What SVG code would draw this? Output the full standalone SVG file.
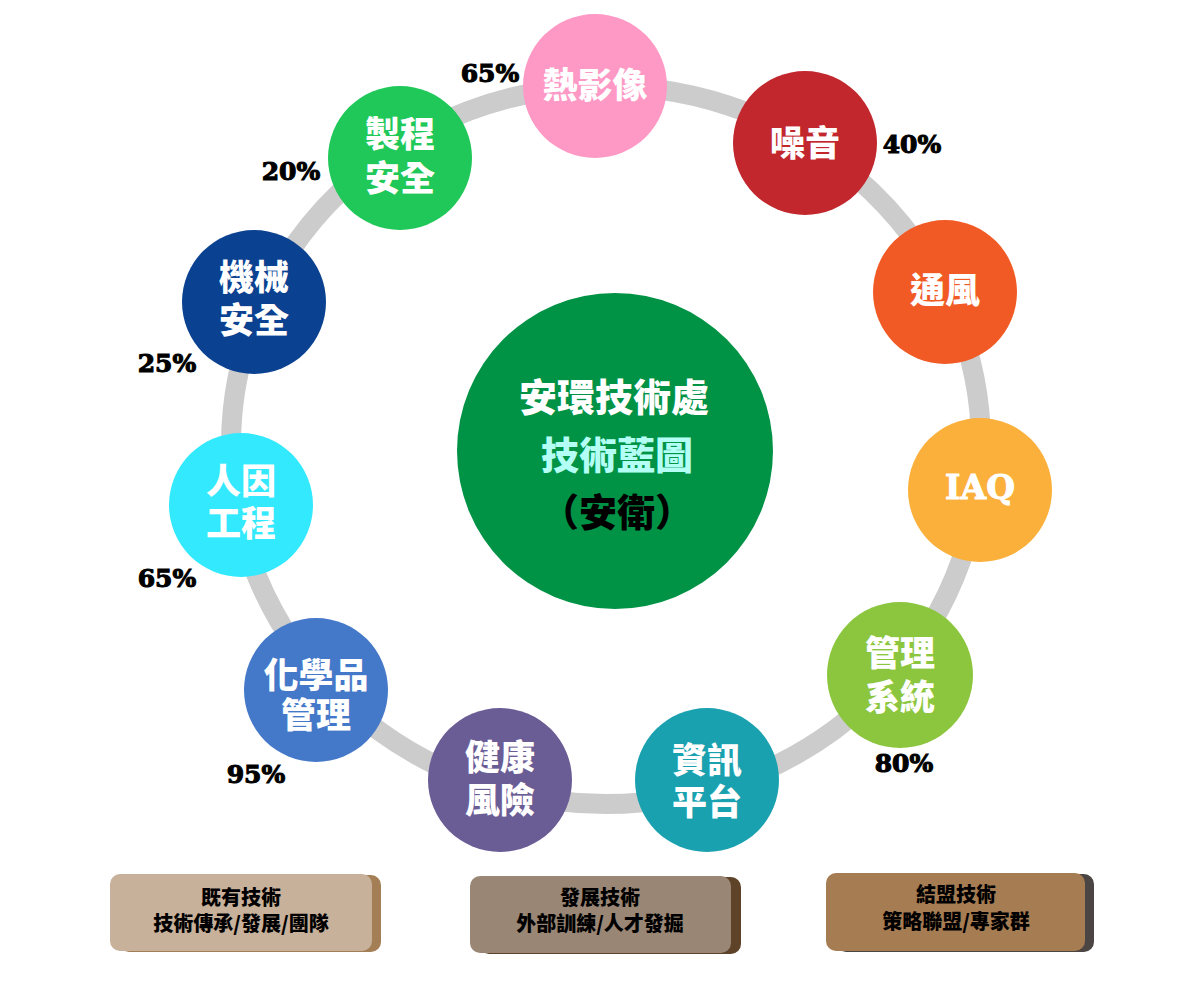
<svg xmlns="http://www.w3.org/2000/svg" width="1200" height="1000" viewBox="0 0 1200 1000">
<style>
.nt{font-family:"Noto Sans CJK TC","Noto Sans CJK SC",sans-serif;font-weight:900;font-size:35px;fill:#ffffff;text-anchor:middle}
.pc{font-family:"DejaVu Serif","Liberation Serif",serif;font-weight:bold;font-size:25px;fill:#000000;stroke:#000000;stroke-width:1.1px;text-anchor:middle}
.ct{font-family:"Noto Sans CJK TC","Noto Sans CJK SC",sans-serif;font-weight:900;font-size:38px;text-anchor:middle}
.bt{font-family:"Noto Sans CJK TC","Noto Sans CJK SC",sans-serif;font-weight:900;font-size:20px;fill:#000000;text-anchor:middle}
</style>
<rect width="1200" height="1000" fill="#ffffff"/>
<g id="connectors">
<ellipse cx="606" cy="445" rx="375" ry="359" fill="none" stroke="#cccccc" stroke-width="20"/>
</g>
<g id="center">
<circle cx="615" cy="451" r="158" fill="#009245"/>
<text class="ct"><tspan x="614" y="411" fill="#ffffff">安環技術處</tspan><tspan x="617" y="469" fill="#b3fff5">技術藍圖</tspan><tspan x="617" y="526" fill="#000000">（安衛）</tspan></text>
</g>
<g id="n-thermal">
<circle cx="595" cy="86" r="72" fill="#fe98c4"/>
<text class="nt" x="595" y="98">熱影像</text>
</g>
<g id="n-noise">
<circle cx="805" cy="143" r="72" fill="#c1272d"/>
<text class="nt" x="805" y="156">噪音</text>
</g>
<g id="n-vent">
<circle cx="945" cy="292" r="72" fill="#f15a24"/>
<text class="nt" x="945" y="303">通風</text>
</g>
<g id="n-iaq">
<circle cx="980" cy="490" r="72" fill="#fbb03b"/>
<text x="980" y="499" font-family="DejaVu Serif, Liberation Serif, serif" font-weight="bold" font-size="33" fill="#ffffff" stroke="#ffffff" stroke-width="1" text-anchor="middle">IAQ</text>
</g>
<g id="n-mgmt">
<circle cx="900" cy="675" r="73" fill="#8cc63f"/>
<text class="nt"><tspan x="900" y="666">管理</tspan><tspan x="900" y="710">系統</tspan></text>
</g>
<g id="n-info">
<circle cx="707" cy="780" r="72" fill="#1aa1b0"/>
<text class="nt"><tspan x="707" y="773">資訊</tspan><tspan x="707" y="815">平台</tspan></text>
</g>
<g id="n-health">
<circle cx="500" cy="780" r="72" fill="#6a5d96"/>
<text class="nt"><tspan x="500" y="770">健康</tspan><tspan x="500" y="813">風險</tspan></text>
</g>
<g id="n-chem">
<circle cx="316" cy="690" r="72" fill="#4478c8"/>
<text class="nt"><tspan x="316" y="688">化學品</tspan><tspan x="316" y="728">管理</tspan></text>
</g>
<g id="n-ergo">
<circle cx="241" cy="505" r="72" fill="#33e9fd"/>
<text class="nt"><tspan x="241" y="494">人因</tspan><tspan x="241" y="536">工程</tspan></text>
</g>
<g id="n-mech">
<circle cx="254" cy="302" r="72" fill="#0b4191"/>
<text class="nt"><tspan x="254" y="290">機械</tspan><tspan x="254" y="333">安全</tspan></text>
</g>
<g id="n-process">
<circle cx="400" cy="158" r="72" fill="#1fc858"/>
<text class="nt"><tspan x="400" y="147">製程</tspan><tspan x="400" y="191">安全</tspan></text>
</g>
<g id="percentages">
<text class="pc" x="490" y="82">65%</text>
<text class="pc" x="912" y="153">40%</text>
<text class="pc" x="291" y="180">20%</text>
<text class="pc" x="167" y="372">25%</text>
<text class="pc" x="167" y="587">65%</text>
<text class="pc" x="256" y="783">95%</text>
<text class="pc" x="904" y="772">80%</text>
</g>
<g id="box-existing">
<rect x="119" y="875" width="262" height="77" rx="10" fill="#a47e55"/>
<rect x="110" y="874" width="262" height="77" rx="10" fill="#c8b19a"/>
<text class="bt"><tspan x="241" y="905">既有技術</tspan><tspan x="241" y="931">技術傳承/發展/團隊</tspan></text>
</g>
<g id="box-develop">
<rect x="479" y="877" width="262" height="77" rx="10" fill="#5e4329"/>
<rect x="470" y="876" width="261" height="77" rx="10" fill="#998675"/>
<text class="bt"><tspan x="600" y="905">發展技術</tspan><tspan x="600" y="931">外部訓練/人才發掘</tspan></text>
</g>
<g id="box-alliance">
<rect x="836" y="874" width="258" height="78" rx="10" fill="#4b4644"/>
<rect x="826" y="873" width="259" height="78" rx="10" fill="#a67c52"/>
<text class="bt"><tspan x="956" y="902">結盟技術</tspan><tspan x="956" y="929">策略聯盟/專家群</tspan></text>
</g>
</svg>
